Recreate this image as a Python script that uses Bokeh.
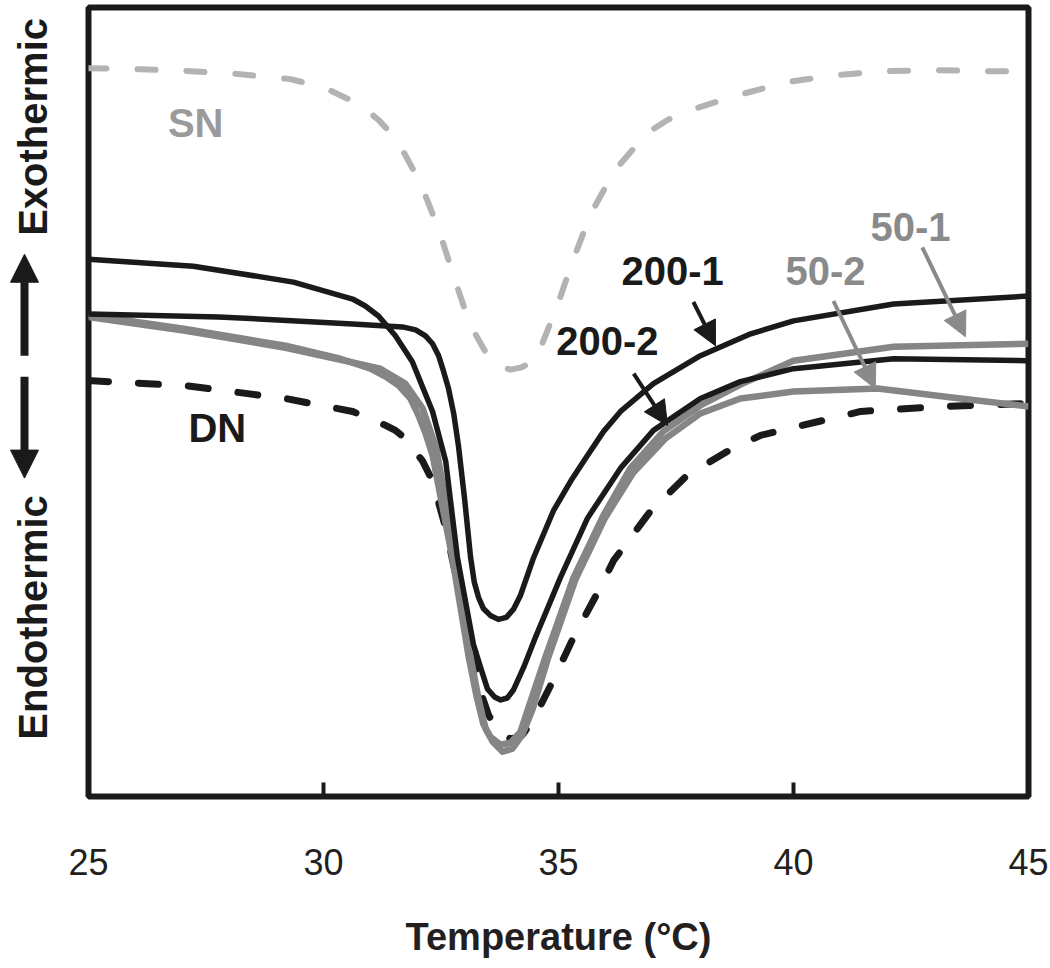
import math
from bokeh.plotting import figure
from bokeh.layouts import row
from bokeh.models import Range1d, FixedTicker, Arrow, NormalHead, ColumnDataSource
from bokeh.embed import file_html
from bokeh.resources import INLINE
from bokeh.core.properties import value

FONT = "Liberation Sans"

# ---------------- data (temperature in deg C, heat flow in arbitrary units) ----------------
x_ticks = [25, 30, 35, 40, 45]

t_sn = [25.00, 26.11, 27.17, 28.23, 29.30, 30.04, 30.79, 31.17, 31.55, 32.06, 32.45, 32.77, 33.11,
        33.55, 33.77, 33.98, 34.19, 34.51, 34.98, 35.30, 35.68, 36.19, 36.89, 37.32, 37.81, 38.83,
        39.85, 40.89, 41.96, 43.02, 44.09, 45.00]
y_sn = [73.2, 73.1, 72.9, 72.6, 72.1, 71.2, 69.5, 68.0, 66.1, 61.7, 57.0, 52.3, 47.5,
        43.8, 43.2, 42.9, 43.1, 43.8, 49.4, 53.8, 58.5, 62.9, 66.7, 68.0, 69.0, 70.5,
        71.8, 72.5, 72.9, 73.0, 72.9, 72.9]

t_dn = [25.00, 27.06, 29.19, 30.62, 31.32, 31.53, 31.74, 32.11, 32.32, 32.60, 32.87, 33.13, 33.38,
        33.51, 33.66, 33.83, 33.98, 34.13, 34.23, 34.45, 34.89, 35.32, 35.89, 36.17, 36.96, 37.74,
        38.60, 39.30, 41.43, 43.13, 45.00]
y_dn = [41.8, 41.3, 40.0, 38.7, 37.3, 36.8, 36.0, 33.7, 31.7, 27.0, 21.0, 15.0, 10.0,
        8.2, 7.0, 6.1, 5.8, 5.9, 6.2, 7.6, 11.7, 16.0, 21.0, 23.7, 28.7, 32.3,
        34.7, 36.3, 38.7, 39.2, 39.5]

t_200_1 = [25.00, 27.77, 30.62, 31.68, 31.96, 32.17, 32.32, 32.45, 32.55, 32.66, 32.77, 32.87,
           33.00, 33.13, 33.21, 33.30, 33.40, 33.55, 33.72, 33.89, 34.04, 34.19, 34.47, 34.89,
           35.26, 35.62, 35.96, 36.32, 37.02, 38.02, 39.09, 40.00, 42.13, 45.00]
y_200_1 = [48.5, 48.2, 47.5, 47.2, 46.9, 46.3, 45.5, 44.3, 42.8, 41.0, 38.5, 35.3,
           30.0, 24.0, 21.5, 20.0, 18.9, 18.2, 17.8, 18.0, 18.8, 20.2, 24.0, 28.7,
           31.7, 34.3, 36.7, 38.7, 41.5, 44.3, 46.5, 47.8, 49.5, 50.3]

t_200_2 = [25.00, 27.23, 29.36, 30.62, 30.89, 31.17, 31.53, 31.89, 32.32, 32.60, 32.85, 33.19,
           33.34, 33.49, 33.64, 33.77, 33.91, 34.04, 34.26, 34.51, 35.04, 35.62, 36.32, 37.02,
           38.02, 38.87, 40.00, 42.13, 45.00]
y_200_2 = [54.0, 53.3, 51.7, 50.0, 49.3, 48.3, 46.3, 43.7, 38.7, 33.7, 24.0, 15.3,
           13.0, 10.8, 10.0, 9.7, 9.9, 10.7, 13.0, 16.0, 22.0, 28.0, 33.0, 36.8,
           40.0, 41.7, 43.0, 44.0, 43.8]

t_50_1 = [25.00, 27.06, 29.19, 30.36, 31.00, 31.32, 31.60, 31.85, 32.02, 32.17, 32.32, 32.74,
          33.09, 33.26, 33.40, 33.55, 33.77, 33.98, 34.19, 34.40, 34.72, 35.32, 35.96, 36.53,
          37.23, 38.02, 38.87, 40.00, 42.13, 45.00]
y_50_1 = [48.4, 47.0, 45.3, 44.0, 43.0, 42.2, 41.3, 40.0, 38.3, 36.5, 34.3, 24.0,
          14.0, 10.0, 7.3, 6.0, 5.2, 5.4, 6.5, 9.5, 14.0, 22.0, 28.3, 33.0,
          36.7, 39.3, 41.4, 43.8, 45.2, 45.5]

t_50_2 = [25.00, 27.06, 29.19, 30.36, 31.21, 31.74, 32.11, 32.40, 32.81, 33.13, 33.30, 33.45,
          33.60, 33.81, 34.02, 34.23, 34.45, 34.77, 35.36, 35.99, 36.60, 37.28, 38.02, 38.87,
          40.00, 41.79, 43.55, 45.00]
y_50_2 = [48.2, 46.8, 45.1, 43.9, 43.0, 41.5, 39.0, 35.0, 24.0, 14.0, 9.8, 6.8,
          5.5, 4.5, 4.8, 6.2, 8.8, 13.8, 21.8, 28.0, 32.6, 36.0, 38.5, 40.0,
          40.7, 41.0, 40.0, 39.2]

# series labels
lab_text = ["SN", "DN", "200-1", "200-2", "50-1", "50-2"]
lab_x = [27.28, 27.74, 37.43, 36.04, 42.49, 40.68]
lab_y = [67.7, 37.0, 52.8, 45.8, 57.2, 52.8]
lab_color = ["#9a9a9a", "#1a1a1a", "#1a1a1a", "#1a1a1a", "#8a8a8a", "#8a8a8a"]

# pointer arrows (start -> tip)
arr_x0 = [37.87, 36.60, 42.74, 40.85]
arr_y0 = [49.7, 42.5, 55.2, 49.8]
arr_x1 = [38.34, 37.32, 43.66, 41.74]
arr_y1 = [45.3, 37.3, 46.2, 41.0]
arr_color = ["#1a1a1a", "#1a1a1a", "#8a8a8a", "#8a8a8a"]

# side captions (heat-flow direction)
side_text = ["Exothermic", "Endothermic"]
side_y = [67.3, 18.0]
side_arrow_y0 = [44.3, 42.2]
side_arrow_y1 = [54.5, 32.0]

Y_RANGE = (0, 79.3)
H = 960
TOP = 7
BOTTOM = 160
DARK = "#1a1a1a"
STRIP_W = 65

# ---------------- left strip with direction captions ----------------
s = figure(width=STRIP_W, height=H, output_backend="svg", toolbar_location=None,
           x_range=Range1d(0, STRIP_W), y_range=Range1d(*Y_RANGE),
           min_border_left=0, min_border_right=0, min_border_top=TOP, min_border_bottom=BOTTOM)
s.axis.visible = False
s.grid.visible = False
s.outline_line_color = None
s.text(x=[32, 32], y=side_y, text=side_text, angle=math.pi / 2,
       text_align="center", text_baseline="alphabetic",
       text_font=value(FONT), text_font_size="40px", text_font_style="bold", text_color=DARK)
for y0, y1 in zip(side_arrow_y0, side_arrow_y1):
    s.add_layout(Arrow(end=NormalHead(size=28, fill_color=DARK, line_color=DARK, line_width=1),
                       x_start=24, y_start=y0, x_end=24, y_end=y1,
                       line_color=DARK, line_width=8))

# ---------------- main plot ----------------
p = figure(width=983, height=H, output_backend="svg", toolbar_location=None,
           x_range=Range1d(25, 45), y_range=Range1d(*Y_RANGE),
           min_border_left=23, min_border_right=20, min_border_top=TOP, min_border_bottom=BOTTOM)
p.grid.visible = False
p.yaxis.visible = False
p.outline_line_color = DARK
p.outline_line_width = 6

ax = p.xaxis[0]
ax.ticker = FixedTicker(ticks=x_ticks)
ax.axis_line_color = None
ax.major_tick_in = 14
ax.major_tick_out = 0
ax.major_tick_line_width = 4
ax.major_tick_line_color = DARK
ax.minor_tick_line_color = None
ax.major_label_text_font = FONT
ax.major_label_text_font_size = "36px"
ax.major_label_text_color = "#231f20"
ax.major_label_standoff = 52
ax.axis_label = "Temperature (°C)"
ax.axis_label_text_font = FONT
ax.axis_label_text_font_size = "38px"
ax.axis_label_text_font_style = "bold"
ax.axis_label_text_color = "#231f20"
ax.axis_label_standoff = 38

# curves
p.line(t_sn, y_sn, line_color="#b3b3b3", line_width=6, line_dash="18 31", line_cap="round")
p.line(t_dn, y_dn, line_color=DARK, line_width=7, line_dash="20 30", line_cap="round")
p.line(t_50_2, y_50_2, line_color="#858585", line_width=6.5, line_join="round")
p.line(t_50_1, y_50_1, line_color="#858585", line_width=6.5, line_join="round")
p.line(t_200_2, y_200_2, line_color=DARK, line_width=5.5, line_join="round")
p.line(t_200_1, y_200_1, line_color=DARK, line_width=5.5, line_join="round")

# series labels
src = ColumnDataSource(dict(x=lab_x, y=lab_y, text=lab_text, color=lab_color))
p.text(x="x", y="y", text="text", source=src, text_color="color",
       text_font=value(FONT), text_font_style="bold", text_font_size="40px",
       text_align="center", text_baseline="middle")

# pointer arrows
for x0, y0, x1, y1, c in zip(arr_x0, arr_y0, arr_x1, arr_y1, arr_color):
    p.add_layout(Arrow(end=NormalHead(size=24, fill_color=c, line_color=c, line_width=1),
                       x_start=x0, y_start=y0, x_end=x1, y_end=y1,
                       line_color=c, line_width=4))

layout = row(s, p, spacing=0)
open("out.html", "w").write(file_html(layout, INLINE))
